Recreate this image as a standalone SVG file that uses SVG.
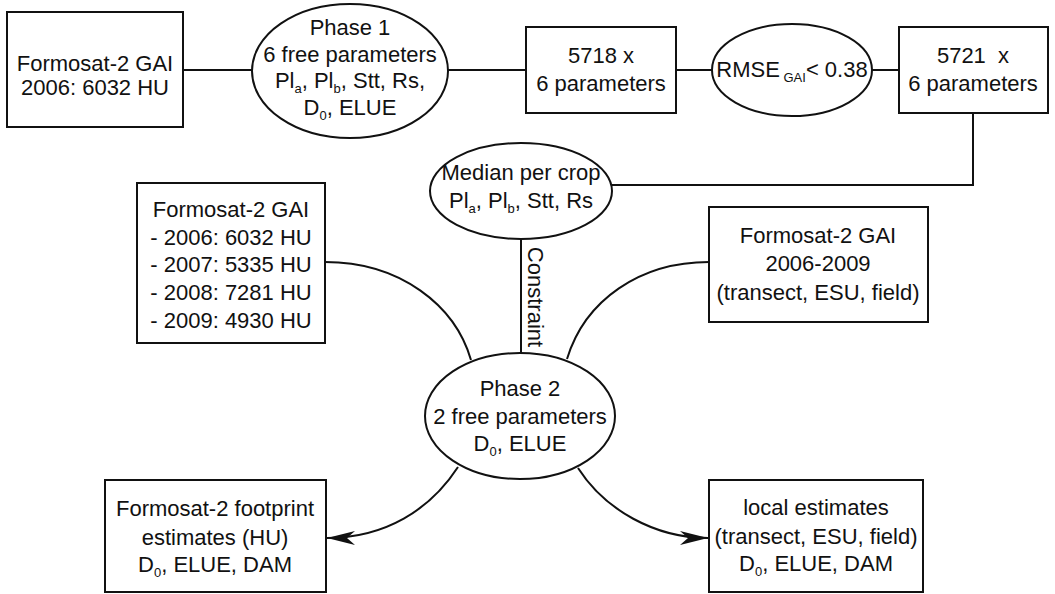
<svg xmlns="http://www.w3.org/2000/svg" width="1055" height="594" viewBox="0 0 1055 594">
<defs>
<style>
.s{fill:#fff;stroke:#111;stroke-width:2}
.c{fill:none;stroke:#111;stroke-width:2}
text{font-family:"Liberation Sans",Arial,sans-serif;font-size:22px;fill:#111;text-anchor:middle}
.sub{font-size:13px}
</style>
<marker id="ah" markerUnits="userSpaceOnUse" markerWidth="30" markerHeight="14" viewBox="-28 -7 30 14" refX="0" refY="0" orient="auto">
<path d="M0,0 L-28,-7 L-20,0 L-28,7 Z" fill="#111"/>
</marker>
</defs>
<rect width="1055" height="594" fill="#fff"/>
<g id="connectors">
<line class="c" x1="183" y1="70" x2="252" y2="70"/>
<line class="c" x1="448" y1="70" x2="526" y2="70"/>
<line class="c" x1="676" y1="70" x2="712" y2="70"/>
<line class="c" x1="872" y1="70" x2="899" y2="70"/>
<polyline class="c" points="973,113 973,185 612,185"/>
<line class="c" x1="521" y1="239" x2="521" y2="353"/>
<text transform="translate(535,297) rotate(90)" dominant-baseline="central" style="text-anchor:middle">Constraint</text>
<path class="c" d="M325,262 C400,262 455,305 471,360"/>
<path class="c" d="M709,262 C640,262 585,300 567,359"/>
<path class="c" d="M458,467 C430,510 385,538 327,538" marker-end="url(#ah)"/>
<path class="c" d="M578,468 C605,510 655,538 708,538" marker-end="url(#ah)"/>
</g>
<g id="n1">
<rect class="s" x="7" y="12" width="176" height="115"/>
<text x="95" y="71">Formosat-2 GAI</text>
<text x="95" y="95">2006: 6032 HU</text>
</g>
<g id="n2">
<ellipse class="s" cx="350" cy="71" rx="98" ry="67"/>
<text x="350" y="35">Phase 1</text>
<text x="350" y="62">6 free parameters</text>
<text x="350" y="88">Pl<tspan class="sub" dy="5">a</tspan><tspan dy="-5">, Pl</tspan><tspan class="sub" dy="5">b</tspan><tspan dy="-5">, Stt, Rs,</tspan></text>
<text x="350" y="115">D<tspan class="sub" dy="5">0</tspan><tspan dy="-5">, ELUE</tspan></text>
</g>
<g id="n3">
<rect class="s" x="526" y="27" width="150" height="86"/>
<text x="601" y="63">5718 x</text>
<text x="601" y="91">6 parameters</text>
</g>
<g id="n4">
<ellipse class="s" cx="792" cy="70" rx="80" ry="46"/>
<text x="792" y="77">RMSE<tspan class="sub" dy="5"> GAI</tspan><tspan dy="-5">&lt; 0.38</tspan></text>
</g>
<g id="n5">
<rect class="s" x="899" y="27" width="149" height="86"/>
<text x="973" y="63" xml:space="preserve">5721  x</text>
<text x="973" y="91">6 parameters</text>
</g>
<g id="n6">
<ellipse class="s" cx="521" cy="191" rx="91" ry="48"/>
<text x="521" y="180">Median per crop</text>
<text x="521" y="208">Pl<tspan class="sub" dy="5">a</tspan><tspan dy="-5">, Pl</tspan><tspan class="sub" dy="5">b</tspan><tspan dy="-5">, Stt, Rs</tspan></text>
</g>
<g id="n7">
<rect class="s" x="137" y="183" width="188" height="160"/>
<text x="231" y="217">Formosat-2 GAI</text>
<text x="231" y="245">- 2006: 6032 HU</text>
<text x="231" y="272">- 2007: 5335 HU</text>
<text x="231" y="300">- 2008: 7281 HU</text>
<text x="231" y="328">- 2009: 4930 HU</text>
</g>
<g id="n8">
<rect class="s" x="709" y="207" width="219" height="115"/>
<text x="818" y="243">Formosat-2 GAI</text>
<text x="818" y="271">2006-2009</text>
<text x="818" y="300">(transect, ESU, field)</text>
</g>
<g id="n9">
<ellipse class="s" cx="520" cy="416" rx="95" ry="63"/>
<text x="520" y="396">Phase 2</text>
<text x="520" y="424">2 free parameters</text>
<text x="520" y="451">D<tspan class="sub" dy="5">0</tspan><tspan dy="-5">, ELUE</tspan></text>
</g>
<g id="n10">
<rect class="s" x="105" y="480" width="221" height="112"/>
<text x="215" y="516">Formosat-2 footprint</text>
<text x="215" y="545">estimates (HU)</text>
<text x="215" y="572">D<tspan class="sub" dy="5">0</tspan><tspan dy="-5">, ELUE, DAM</tspan></text>
</g>
<g id="n11">
<rect class="s" x="709" y="480" width="214" height="112"/>
<text x="816" y="515">local estimates</text>
<text x="816" y="544">(transect, ESU, field)</text>
<text x="816" y="571">D<tspan class="sub" dy="5">0</tspan><tspan dy="-5">, ELUE, DAM</tspan></text>
</g>
</svg>
